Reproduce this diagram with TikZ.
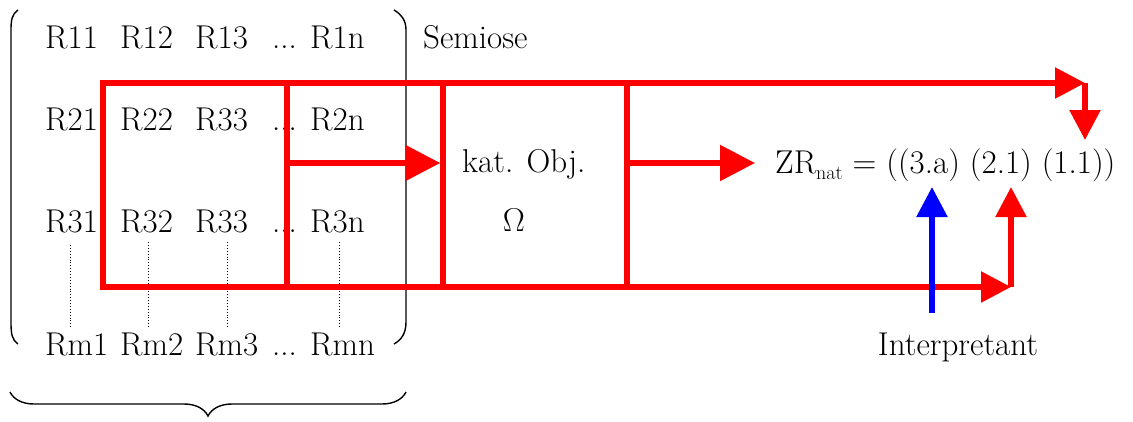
\RequirePackage{fix-cm}
\documentclass[tikz,border=0pt]{standalone}
\usetikzlibrary{arrows.meta,decorations.pathreplacing}
\begin{document}
\begin{tikzpicture}[x=1pt,y=-1pt,
  lbl/.style={inner sep=0pt, anchor=base west, font=\fontsize{33}{38}\selectfont},
  redline/.style={draw=red, line width=5.5pt},
  bigarrow/.style={redline, -{Triangle[length=35pt,width=35pt]}},
  smallarrow/.style={redline, -{Triangle[length=30pt,width=30pt]}},
  bluearrow/.style={draw=blue, line width=5.5pt, -{Triangle[length=30pt,width=30pt]}},
  paren/.style={draw=black, line width=1.4pt},
  dotline/.style={draw=black, line width=0.9pt, dotted}]
\useasboundingbox (0,0) rectangle (1133,421);

% matrix entries
\foreach \r/\y in {1/48,2/130,3/232}{
  \node[lbl] (r\r1) at (45,\y) {R\r1};
  \node[lbl] (r\r2) at (120,\y) {R\ifnum\r=2 22\else\r2\fi};
  \node[lbl] (r\r3) at (195,\y) {R\ifnum\r=1 13\else 33\fi};
  \node[lbl] (d\r) at (272,\y) {...};
  \node[lbl] (r\r n) at (310,\y) {R\r n};
}
\node[lbl] (rm1) at (45,355) {Rm1};
\node[lbl] (rm2) at (120,355) {Rm2};
\node[lbl] (rm3) at (195,355) {Rm3};
\node[lbl] (dm) at (272,355) {...};
\node[lbl] (rmn) at (310,355) {Rmn};

% dotted connections
\draw[dotline] (70,245) -- (70,328);
\draw[dotline] (148,242) -- (148,328);
\draw[dotline] (227,242) -- (227,328);
\draw[dotline] (339,242) -- (339,328);

% parentheses
\draw[paren] (18,10) .. controls (12,14) and (11,20) .. (11,30) -- (11,322) .. controls (11,334) and (12,340) .. (18,344);
\draw[paren] (394,10) .. controls (401,14) and (406,20) .. (406,30) -- (406,322) .. controls (406,334) and (401,340) .. (394,344);

% brace
\draw[paren, decorate, decoration={brace, mirror, amplitude=24pt, aspect=0.5}] (10,392) -- (406,392);

\node[lbl] (semiose) at (423,48) {Semiose};

% red frame
\draw[redline] (103,83) rectangle (443,287);
\draw[redline] (287,83) -- (287,287);
\node[redline, rectangle, minimum width=184pt, minimum height=204pt, inner sep=0pt] (box) at (535,185) {};
\node[lbl] (kat) at (462,172) {kat. Obj.};
\node[lbl, anchor=base] (omega) at (514,231) {$\Omega$};

\coordinate (tl) at (103,83);
\coordinate (bl) at (103,287);
\coordinate (split) at (287,163);
\coordinate (tr) at (1085,83);
\coordinate (br) at (1011,287);
\coordinate (bstart) at (932,313);

\node[lbl] (zr) at (775,173) {ZR\raisebox{-0.2em}{\fontsize{20}{20}\selectfont nat} = ((3.a) (2.1) (1.1))};
\node[lbl, anchor=base] (interp) at (958,355) {Interpretant};

\draw[bigarrow] (split) -- (split -| box.west);
\draw[bigarrow] (box.east |- split) -- (755,163);
\draw[smallarrow] (tl) -- (tr);
\draw[smallarrow] (tr) -- (1085,140);
\draw[smallarrow] (bl) -- (br);
\draw[smallarrow] (br) -- (1011,187);
\draw[bluearrow] (bstart) -- (932,187);
\end{tikzpicture}
\end{document}
